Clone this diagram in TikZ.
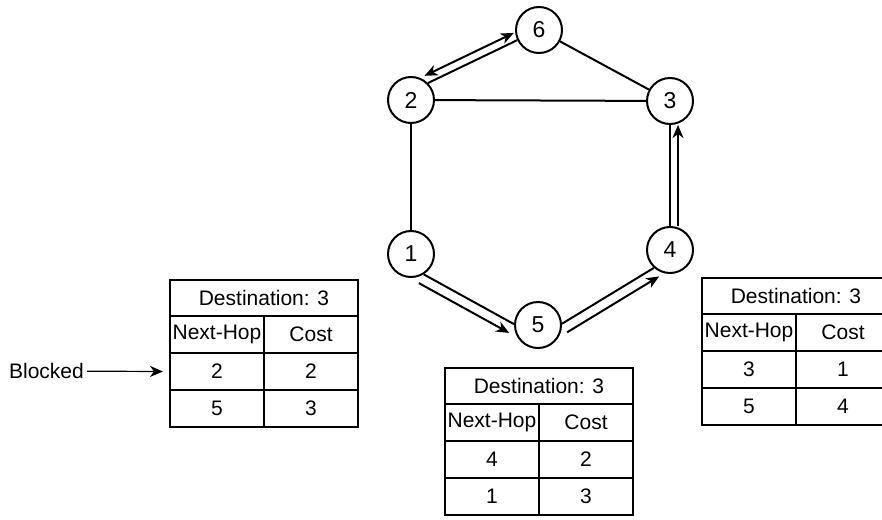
\documentclass[tikz,border=0pt]{standalone}
\usepackage{fontspec}
\setmainfont{Liberation Sans}
\usetikzlibrary{arrows.meta,positioning,calc}

% routing table: name, top-left corner, hop1, cost1, hop2, cost2
\newcommand{\hoptable}[6]{%
  \node[hdr] (#1h) at (#2) {Destination: 3};
  \node[cell] (#1a) at (#1h.south west) {Next-Hop};
  \node[cell] (#1b) at (#1a.north east) {Cost};
  \node[cell] (#1c) at (#1a.south west) {#3};
  \node[cell] (#1d) at (#1c.north east) {#4};
  \node[cell] (#1e) at (#1c.south west) {#5};
  \node[cell] (#1f) at (#1e.north east) {#6};
}

\begin{document}
\begin{tikzpicture}[
  x=1pt, y=-1pt,
  >={Stealth[length=13pt, width=11pt, inset=4pt]},
  lbl/.style={font=\fontsize{21}{25}\selectfont},
  router/.style={circle, draw, line width=2pt, minimum size=46pt, inner sep=0pt,
    font=\fontsize{23}{27}\selectfont},
  hdr/.style={draw, line width=2.4pt, outer sep=0pt, inner sep=1pt, anchor=north west,
    minimum width=188pt, minimum height=36pt, lbl},
  cell/.style={draw, line width=2.4pt, outer sep=0pt, inner sep=1pt, anchor=north west,
    minimum width=94pt, minimum height=37pt, lbl},
  link/.style={line width=2pt},
  flow/.style={->, line width=2pt}
]
\path[use as bounding box] (0,0) rectangle (882,519);
\clip (0,0) rectangle (882,519);

% routers
\node[router] (n6) at (539,30) {6};
\node[router] (n2) at (411,100) {2};
\node[router] (n3) at (670,101) {3};
\node[router] (n1) at (411,254) {1};
\node[router] (n4) at (670,250) {4};
\node[router] (n5) at (538,325) {5};

% links
\draw[link] (n2.45) -- (n6.205);
\draw[link] (n6) -- (n3);
\draw[link] (n2) -- (n3);
\draw[link] (n2) -- (n1);
\draw[link] (n1.-58) -- (n5.178);
\draw[link] (n5.3) -- (n4.-132);
\draw[link] (n4) -- (n3);

% advertised paths
\draw[flow, <->] ($(n2.45)!8pt!90:(n6.205)$) -- ($(n6.205)!8pt!-90:(n2.45)$);
\draw[flow] ($(n4.north)!8pt!-90:(n3.south)$) -- ($(n3.south)!8pt!90:(n4.north)$);
\draw[flow] ($(n1.-58)!10pt!-90:(n5.178)$) -- ($(n5.178)!10pt!90:(n1.-58)$);
\draw[flow] ($(n5.3)!10pt!-90:(n4.-132)$) -- ($(n4.-132)!10pt!90:(n5.3)$);

% tables
\hoptable{L}{170,280}{2}{2}{5}{3}
\hoptable{M}{445,368}{4}{2}{1}{3}
\hoptable{R}{702,278}{3}{1}{5}{4}

\node[lbl, anchor=east, inner sep=3pt] (blocked) at (87,371) {Blocked};
\draw[->, line width=1.2pt] (blocked) -- ([xshift=-7pt]Lc.west);
\end{tikzpicture}
\end{document}
